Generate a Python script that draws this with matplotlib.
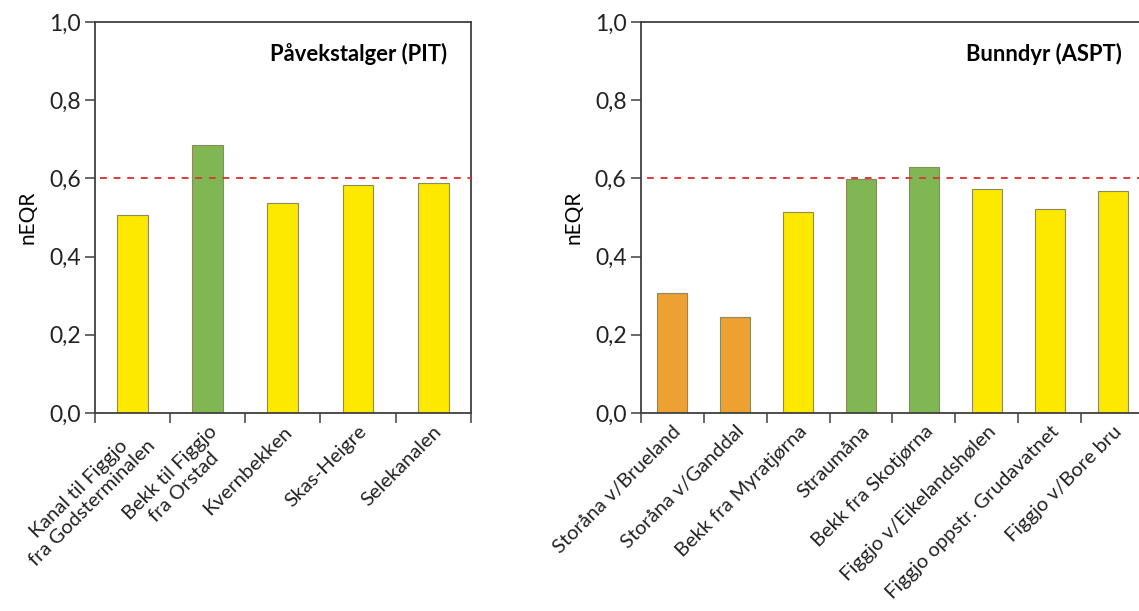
import numpy as np
import matplotlib.pyplot as plt

plt.rcParams['font.family'] = ['Lato', 'DejaVu Sans']

# data
pit_sites = ["Kanal til Figgjo\nfra Godsterminalen", "Bekk til Figgjo\nfra Orstad",
             "Kvernbekken", "Skas-Heigre", "Selekanalen"]
pit_values = [0.506, 0.686, 0.538, 0.583, 0.588]
pit_class = ["moderat", "god", "moderat", "moderat", "moderat"]

aspt_sites = ["Storåna v/Brueland", "Storåna v/Ganddal", "Bekk fra Myratjørna",
              "Straumåna", "Bekk fra Skotjørna", "Figgjo v/Eikelandshølen",
              "Figgjo oppstr. Grudavatnet", "Figgjo v/Bore bru"]
aspt_values = [0.307, 0.246, 0.514, 0.599, 0.630, 0.574, 0.522, 0.569]
aspt_class = ["dårlig", "dårlig", "moderat", "god", "god", "moderat", "moderat", "moderat"]

limit = 0.6
yticks = [0.0, 0.2, 0.4, 0.6, 0.8, 1.0]

colors = {"god": "#80b752", "moderat": "#fde800", "dårlig": "#eda133"}

fig = plt.figure(figsize=(11.39, 6.11), dpi=100)
ax1 = fig.add_axes([95/1139, 198/611, 375.7/1139, 391/611])
ax2 = fig.add_axes([640.5/1139, 198/611, 504/1139, 391/611])


def draw(ax, sites, values, cls, title, width, title_x, ylab_x):
    x = np.arange(len(sites))
    ax.bar(x, values, width=width, color=[colors[c] for c in cls],
           edgecolor="#8a8a5a", linewidth=0.8, zorder=2)
    ax.axhline(limit, xmin=0.012, color="#e0393a", linestyle=(0, (3.5, 3.5)),
               linewidth=1.4, zorder=3)
    ax.set_xlim(-0.5, len(sites) - 0.5)
    ax.set_ylim(0, 1.0)
    ax.set_yticks(yticks)
    ax.set_yticklabels([f"{v:.1f}".replace(".", ",") for v in yticks], fontsize=16.5,
                       color="#222222")
    ax.set_xticks(x)
    ax.set_xticklabels(sites, rotation=45, ha="right", rotation_mode="anchor",
                       fontsize=14.5, multialignment="center", color="#222222",
                       linespacing=1.2)
    ax.tick_params(axis="x", which="major", length=0, pad=7)
    ax.set_xticks(np.arange(-0.5, len(sites)), minor=True)
    ax.tick_params(axis="x", which="minor", length=7, direction="out",
                   width=1.1, color="#404040")
    ax.tick_params(axis="y", length=7, width=1.1, color="#404040", pad=3)
    for s in ax.spines.values():
        s.set_color("#404040")
        s.set_linewidth(1.3)
    ax.set_ylabel("nEQR", fontsize=15)
    ax.yaxis.set_label_coords(ylab_x, 0.5)
    ax.text(title_x, 0.918, title, transform=ax.transAxes, ha="right",
            va="center", fontsize=15.8, fontweight="bold")


draw(ax1, pit_sites, pit_values, pit_class, "Påvekstalger (PIT)", 0.41, 0.937, -0.152)
draw(ax2, aspt_sites, aspt_values, aspt_class, "Bunndyr (ASPT)", 0.48, 0.955, -0.114)

fig.savefig("out.png", dpi=100)
